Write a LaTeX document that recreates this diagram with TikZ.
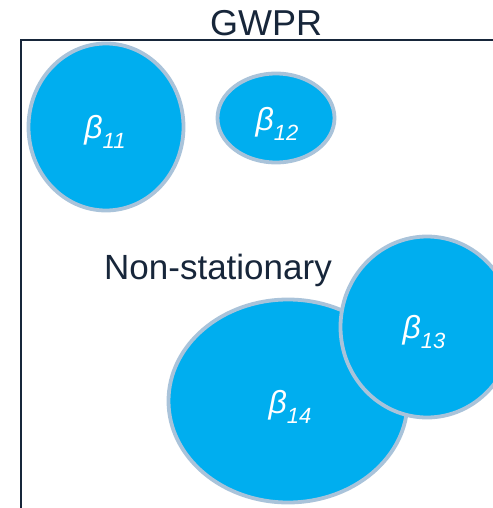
\documentclass[tikz,border=0pt]{standalone}
\usepackage{fontspec}
\setmainfont{Liberation Sans}
\usetikzlibrary{shapes.geometric}
\definecolor{blobfill}{HTML}{00AEEF}
\definecolor{blobedge}{HTML}{A9C3DA}
\definecolor{inkdark}{HTML}{17263A}
\tikzset{
  blob/.style={ellipse, fill=blobfill, draw=blobedge, line width=3.8pt,
    inner sep=0pt},
  coeftext/.style={text=white, inner sep=0pt, font=\fontsize{32}{34}\selectfont\itshape},
  heading/.style={text=inkdark, inner sep=0pt}
}
\newcommand{\coef}[1]{β\raisebox{-0.3em}{\fontsize{22}{24}\selectfont #1}}
\begin{document}
\begin{tikzpicture}[x=1pt,y=-1pt]
\useasboundingbox (0,0) rectangle (492,508);
% frame
\draw[inkdark, line width=1.8pt] (21,515) -- (21,40) -- (500,40);
% titles
\node[heading, font=\fontsize{36}{38}\selectfont] (title) at (266,23) {GWPR};
\node[heading, font=\fontsize{35}{37}\selectfont] (label) at (218,270) {Non-stationary};
% coefficient regions
\node[blob, minimum width=155pt, minimum height=167pt] (b11) at (106,127) {};
\node[blob, minimum width=117pt, minimum height=89pt] (b12) at (276,118) {};
\node[blob, minimum width=239pt, minimum height=203pt] (b14) at (288,401) {};
\node[blob, minimum width=173pt, minimum height=181pt] (b13) at (427,327) {};
\node[coeftext] (t11) at (b11.center) [xshift=-1pt, yshift=-5pt] {\coef{11}};
\node[coeftext] (t12) at (b12.center) [xshift=1pt, yshift=-6pt] {\coef{12}};
\node[coeftext] (t13) at (b13.center) [xshift=-3pt, yshift=-5pt] {\coef{13}};
\node[coeftext] (t14) at (b14.center) [xshift=2pt, yshift=-6pt] {\coef{14}};
\end{tikzpicture}
\end{document}
